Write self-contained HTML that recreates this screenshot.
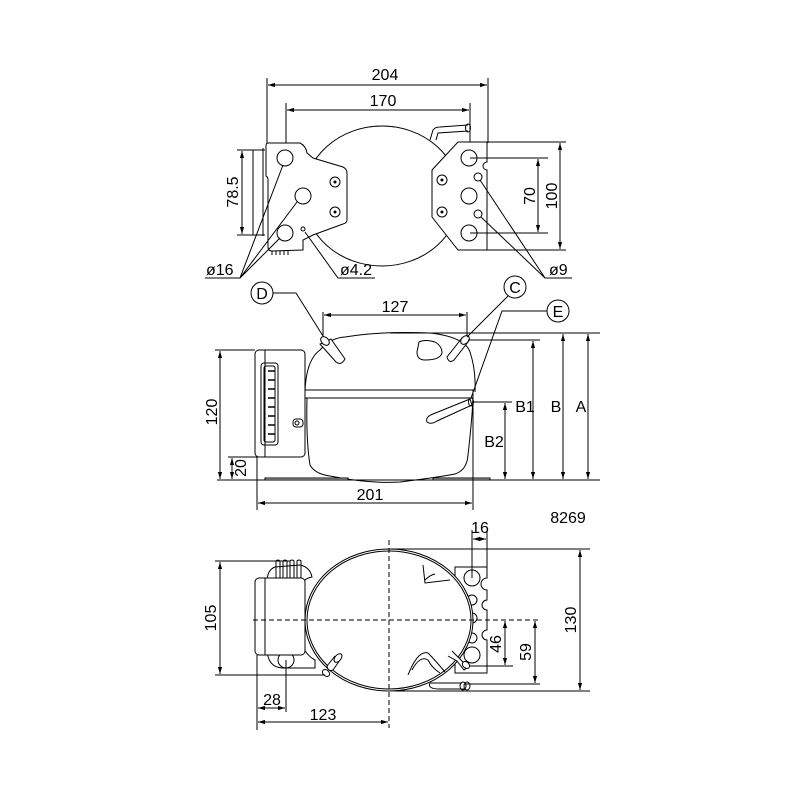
<!DOCTYPE html>
<html><head><meta charset="utf-8"><style>
html,body{margin:0;padding:0;background:#fff;}
svg{display:block;}
text{font-family:"Liberation Sans",sans-serif;font-size:16px;fill:#000;}
</style></head><body>
<svg width="800" height="800" viewBox="0 0 800 800" xmlns="http://www.w3.org/2000/svg">
<defs>
<marker id="a" viewBox="0 0 10 10" refX="10" refY="5" markerWidth="7" markerHeight="7" orient="auto-start-reverse"><path d="M0,2 L10,5 L0,8 z" fill="#000"/></marker>
</defs>
<g fill="none" stroke="#000" stroke-width="1">
<!-- ===== TOP VIEW ===== -->
<line x1="267" y1="78" x2="267" y2="143"/>
<line x1="488" y1="78" x2="488" y2="143"/>
<line x1="268" y1="85" x2="487" y2="85" marker-start="url(#a)" marker-end="url(#a)"/>
<line x1="286" y1="103" x2="286" y2="158"/>
<line x1="470" y1="103" x2="470" y2="158"/>
<line x1="287" y1="110" x2="469" y2="110" marker-start="url(#a)" marker-end="url(#a)"/>
<ellipse cx="382" cy="196" rx="78" ry="70" fill="#fff"/>
<path d="M430,140 L433,130 Q435,127 440,127 L468,125" />
<path d="M436,140 L438,133 L468,131"/>
<ellipse cx="468" cy="128" rx="2.5" ry="4"/>
<path d="M268,143 L300,143 Q306,146 307,153 L313,158 L343,167 Q347,169 347,173 L347,220 Q347,223 343,224 L313,235 L303,240 L303,250 L272,251 Q268,251 268,247 L268,180 Q268,177 266,176 L266,146 Q266,143 268,143 Z" fill="#fff"/>
<path d="M263,150 L253,150 L253,235 L263,235"/>
<line x1="263" y1="148" x2="263" y2="236"/>
<path d="M272,251 L272,255 M276,251 L276,255 M280,251 L280,255 M284,251 L284,255 M288,251 L288,255"/>
<circle cx="285" cy="158" r="8"/><circle cx="303" cy="196" r="8"/><circle cx="285" cy="233" r="8"/>
<circle cx="335" cy="182" r="5"/><circle cx="335" cy="212" r="5"/>
<circle cx="335" cy="182" r="1" fill="#000"/><circle cx="335" cy="212" r="1" fill="#000"/>
<circle cx="303" cy="229" r="2"/>
<path d="M458,142 L487,142 L487,162 A4,4 0 0 0 487,170 L487,250 L458,250 L432,217 L432,170 Z" fill="#fff"/>
<circle cx="469" cy="158" r="8"/><circle cx="469" cy="196" r="8"/><circle cx="469" cy="233" r="8"/>
<circle cx="478" cy="177" r="4"/><circle cx="478" cy="214" r="4"/>
<circle cx="442" cy="180" r="5"/><circle cx="442" cy="212" r="5"/>
<circle cx="442" cy="180" r="1" fill="#000"/><circle cx="442" cy="212" r="1" fill="#000"/>
<line x1="237" y1="150" x2="265" y2="150"/><line x1="237" y1="235" x2="265" y2="235"/>
<line x1="242" y1="151" x2="242" y2="234" marker-start="url(#a)" marker-end="url(#a)"/>
<line x1="470" y1="158" x2="548" y2="158"/><line x1="470" y1="233" x2="548" y2="233"/>
<line x1="538" y1="159" x2="538" y2="232" marker-start="url(#a)" marker-end="url(#a)"/>
<line x1="487" y1="142" x2="566" y2="142"/><line x1="487" y1="250" x2="566" y2="250"/>
<line x1="560" y1="143" x2="560" y2="249" marker-start="url(#a)" marker-end="url(#a)"/>
<path d="M205,278 L240,278 L283,165 M240,278 L297,202 M240,278 L280,238"/>
<path d="M375,278 L338,278 L305,232"/>
<path d="M572,278 L545,278 L480,180 M545,278 L481,217"/>
<!-- ===== SIDE VIEW ===== -->
<line x1="323" y1="312" x2="323" y2="340"/><line x1="467" y1="312" x2="467" y2="340"/>
<line x1="324" y1="315" x2="466" y2="315" marker-start="url(#a)" marker-end="url(#a)"/>
<path d="M305,392 Q306,360 320,350 Q330,338 345,337 Q380,331 430,333 Q465,337 470,352 Q476,370 475,392" fill="#fff"/>
<path d="M307,398 Q306,440 310,465 Q315,474 330,476 Q370,484 400,482 Q440,477 455,474 Q467,470 468,455 Q472,420 473,398" fill="#fff"/>
<rect x="305" y="390" width="168" height="8" fill="#fff"/>
<path d="M265,478 L348,478 L348,480 L265,480 Z M433,478 L490,478 L490,480 L433,480 Z" fill="#ccc"/>
<line x1="217" y1="480" x2="600" y2="480"/>
<rect x="255" y="350" width="50" height="107" rx="4" fill="#fff"/>
<line x1="265" y1="350" x2="265" y2="457"/>
<rect x="261" y="363" width="17" height="82" rx="3"/>
<rect x="264" y="366" width="11" height="76" rx="2"/>
<path d="M268,371 L275,371 M268,380 L275,380 M268,389 L275,389 M268,398 L275,398 M268,407 L275,407 M268,416 L275,416 M268,425 L275,425 M268,434 L275,434" stroke-width="1.5"/>
<rect x="293" y="419" width="10" height="8" rx="3"/><circle cx="297" cy="423" r="2"/>
<path d="M320,344 L336,362 Q341,366 345,359 L331,339 Z" fill="#fff"/><ellipse cx="325" cy="341" rx="5" ry="3.5" transform="rotate(45 325 341)" fill="#fff"/>
<path d="M468,342 L454,360 Q449,364 447,357 L462,338 Z" fill="#fff"/><ellipse cx="465" cy="340" rx="5" ry="3.5" transform="rotate(-45 465 340)" fill="#fff"/>
<path d="M419,342 Q425,339 435,342 Q442,346 442,353 Q440,360 425,360 Q417,360 417,352 Z"/>
<path d="M470,399 L433,414 Q425,417 427,422 Q431,425 437,421 L472,405 Z" fill="#fff"/>
<ellipse cx="471" cy="402" rx="2.5" ry="4"/>
<line x1="215" y1="350" x2="255" y2="350"/>
<line x1="220" y1="351" x2="220" y2="479" marker-start="url(#a)" marker-end="url(#a)"/>
<line x1="228" y1="457" x2="258" y2="457"/>
<line x1="232" y1="458" x2="232" y2="479" marker-start="url(#a)" marker-end="url(#a)"/>
<line x1="257" y1="457" x2="257" y2="510"/><line x1="473" y1="398" x2="473" y2="510"/>
<line x1="258" y1="503" x2="472" y2="503" marker-start="url(#a)" marker-end="url(#a)"/>
<line x1="390" y1="333" x2="600" y2="333"/>
<line x1="468" y1="340" x2="540" y2="340"/>
<line x1="472" y1="402" x2="512" y2="402"/>
<line x1="505" y1="403" x2="505" y2="479" marker-start="url(#a)" marker-end="url(#a)"/>
<line x1="533" y1="341" x2="533" y2="479" marker-start="url(#a)" marker-end="url(#a)"/>
<line x1="563" y1="334" x2="563" y2="479" marker-start="url(#a)" marker-end="url(#a)"/>
<line x1="588" y1="334" x2="588" y2="479" marker-start="url(#a)" marker-end="url(#a)"/>
<circle cx="262" cy="293" r="11"/><circle cx="515" cy="287" r="11"/><circle cx="558" cy="311" r="11"/>
<path d="M273,293 L296,293 L323,336"/>
<path d="M508,296 L467,337"/>
<path d="M547,311 L502,311 L471,398"/>
<!-- ===== BOTTOM VIEW ===== -->
<path d="M275,567 Q267,570 267,582 L267,650 Q268,667 282,668 L315,668 L315,660 Q305,655 300,640 L300,585 Q305,578 312,577 Q310,567 300,565 Z" fill="#fff"/>
<circle cx="286" cy="660" r="8" fill="#fff"/>
<path d="M455,567 L487,567 L487,578 A4,4 0 0 0 487,590 L487,600 A4,4 0 0 0 487,610 L487,630 A4,4 0 0 0 487,640 L487,673 L455,673 Z" fill="#fff"/>
<circle cx="472" cy="578" r="8"/><circle cx="472" cy="600" r="5"/><circle cx="472" cy="618" r="5"/><circle cx="472" cy="638" r="5"/><circle cx="472" cy="655" r="8"/>
<ellipse cx="389" cy="620" rx="84" ry="71" fill="#fff"/>
<ellipse cx="389" cy="620" rx="82" ry="69"/>
<path d="M423,565 L425,583 L450,580 M425,580 Q430,575 435,574"/>
<path d="M408,675 Q418,650 428,653 Q435,660 445,672 M412,670 Q420,655 428,660 Q432,668 440,673"/>
<rect x="255" y="578" width="50" height="77" rx="4" fill="#fff"/>
<line x1="265" y1="578" x2="265" y2="655"/>
<path d="M276,578 L276,561 Q278,559 280,561 L280,578 M283,578 L283,561 Q285,559 287,561 L287,578 M290,578 L290,561 Q292,559 294,561 L294,578 M297,578 L297,561 Q299,559 301,561 L301,578"/>
<path d="M335,656 L327,666 Q328,672 333,670 L340,660" fill="#fff"/><ellipse cx="338" cy="658" rx="3" ry="5" transform="rotate(40 338 658)" fill="#fff"/>
<ellipse cx="326" cy="673" rx="4" ry="3" transform="rotate(40 326 673)" fill="#fff"/>
<path d="M452,651 L463,662 Q468,668 464,670 L457,661 L448,656" fill="#fff"/><ellipse cx="466" cy="665" rx="4" ry="3" transform="rotate(40 466 665)" fill="#fff"/>
<path d="M430,683 Q427,689 440,689 L465,689 M430,683 L462,683"/>
<ellipse cx="463" cy="686" rx="3" ry="4"/><ellipse cx="467" cy="686" rx="3" ry="4"/>
<line x1="389" y1="540" x2="389" y2="728" stroke-dasharray="5,3"/>
<line x1="253" y1="620" x2="540" y2="620" stroke-dasharray="5,3"/>
<line x1="472" y1="530" x2="472" y2="578"/><line x1="487" y1="530" x2="487" y2="567"/>
<line x1="473" y1="539" x2="486" y2="539" marker-start="url(#a)" marker-end="url(#a)"/>
<line x1="389" y1="549" x2="590" y2="549"/><line x1="395" y1="691" x2="590" y2="691"/>
<line x1="580" y1="550" x2="580" y2="690" marker-start="url(#a)" marker-end="url(#a)"/>
<line x1="215" y1="561" x2="290" y2="561"/><line x1="215" y1="675" x2="325" y2="675"/>
<line x1="220" y1="562" x2="220" y2="674" marker-start="url(#a)" marker-end="url(#a)"/>
<line x1="470" y1="666" x2="513" y2="666"/><line x1="465" y1="684" x2="540" y2="684"/>
<line x1="505" y1="621" x2="505" y2="665" marker-start="url(#a)" marker-end="url(#a)"/>
<line x1="535" y1="621" x2="535" y2="683" marker-start="url(#a)" marker-end="url(#a)"/>
<line x1="257" y1="655" x2="257" y2="730"/><line x1="286" y1="660" x2="286" y2="712"/>
<line x1="258" y1="708" x2="285" y2="708" marker-start="url(#a)" marker-end="url(#a)"/>
<line x1="258" y1="722" x2="388" y2="722" marker-start="url(#a)" marker-end="url(#a)"/>
</g>
<!-- text -->
<text x="385" y="80" text-anchor="middle">204</text>
<text x="383" y="106" text-anchor="middle">170</text>
<text transform="translate(238,192) rotate(-90)" text-anchor="middle">78.5</text>
<text transform="translate(535,196) rotate(-90)" text-anchor="middle">70</text>
<text transform="translate(557,196) rotate(-90)" text-anchor="middle">100</text>
<text x="206" y="275">ø16</text>
<text x="340" y="275">ø4.2</text>
<text x="549" y="275">ø9</text>
<text x="262" y="299" text-anchor="middle" font-size="18">D</text>
<text x="515" y="293" text-anchor="middle" font-size="18">C</text>
<text x="558" y="317" text-anchor="middle" font-size="18">E</text>
<text x="395" y="312" text-anchor="middle">127</text>
<text transform="translate(217,412) rotate(-90)" text-anchor="middle">120</text>
<text transform="translate(246,468) rotate(-90)" text-anchor="middle">20</text>
<text x="370" y="500" text-anchor="middle">201</text>
<text x="525" y="412" text-anchor="middle">B1</text>
<text x="556" y="412" text-anchor="middle">B</text>
<text x="581" y="412" text-anchor="middle">A</text>
<text x="494" y="447" text-anchor="middle">B2</text>
<text x="568" y="523" text-anchor="middle" font-size="11">8269</text>
<text x="480" y="533" text-anchor="middle">16</text>
<text transform="translate(576,620) rotate(-90)" text-anchor="middle">130</text>
<text transform="translate(216,618) rotate(-90)" text-anchor="middle">105</text>
<text transform="translate(501,644) rotate(-90)" text-anchor="middle">46</text>
<text transform="translate(531,652) rotate(-90)" text-anchor="middle">59</text>
<text x="272" y="705" text-anchor="middle">28</text>
<text x="323" y="720" text-anchor="middle">123</text>
</svg>
</body></html>
